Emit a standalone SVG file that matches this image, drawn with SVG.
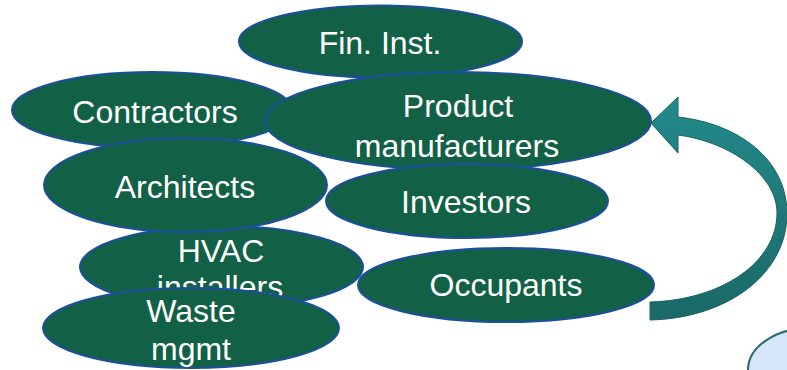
<svg xmlns="http://www.w3.org/2000/svg" width="787" height="370" viewBox="0 0 787 370">
<style>
.n{fill:#126046;stroke:#1d4f9e;stroke-width:2}
.t{fill:#ffffff;font-family:"Liberation Sans",Arial,sans-serif;font-size:32px;text-anchor:middle}
</style>
<defs>
<linearGradient id="ag" x1="0" y1="0" x2="0" y2="1">
<stop offset="0" stop-color="#238a8a"/>
<stop offset="1" stop-color="#1b6868"/>
</linearGradient>
</defs>
<rect width="787" height="370" fill="#ffffff"/>
<g id="fin-inst"><ellipse class="n" cx="380.5" cy="41.5" rx="141.5" ry="36"/><text class="t" x="380" y="54">Fin. Inst.</text></g>
<g id="contractors"><ellipse class="n" cx="152" cy="110" rx="140" ry="38"/><text class="t" x="155" y="123">Contractors</text></g>
<g id="product-manufacturers"><ellipse class="n" cx="458" cy="121" rx="193" ry="49"/><text class="t" x="458" y="117">Product</text><text class="t" x="457" y="157">manufacturers</text></g>
<g id="hvac-installers"><ellipse class="n" cx="221.5" cy="267" rx="141.5" ry="41"/><text class="t" x="221" y="262">HVAC</text><text class="t" x="220" y="298">installers</text></g>
<g id="architects"><ellipse class="n" cx="185.5" cy="185" rx="141.5" ry="47"/><text class="t" x="185" y="198">Architects</text></g>
<g id="investors"><ellipse class="n" cx="467" cy="201" rx="141" ry="37"/><text class="t" x="466" y="213">Investors</text></g>
<g id="occupants"><ellipse class="n" cx="506" cy="285" rx="148" ry="37"/><text class="t" x="506" y="296">Occupants</text></g>
<g id="waste-mgmt"><ellipse class="n" cx="191" cy="328" rx="148" ry="40"/><text class="t" x="191" y="322">Waste</text><text class="t" x="191" y="360">mgmt</text></g>
<g id="connectors">
<path d="M650,320 C730,318 788,272 787,212 C786,160 740,124 678,117 L678,97 L651,123 L678,153 L678,135 C730,142 777,175 777,213 C777,262 722,300 650,302 Z" fill="url(#ag)" stroke="#1a6363" stroke-width="1"/>
</g>
<g id="bottom-shape"><ellipse cx="810" cy="370" rx="62" ry="42" fill="#d4e6f7" stroke="#2a6b6b" stroke-width="2"/></g>
</svg>
